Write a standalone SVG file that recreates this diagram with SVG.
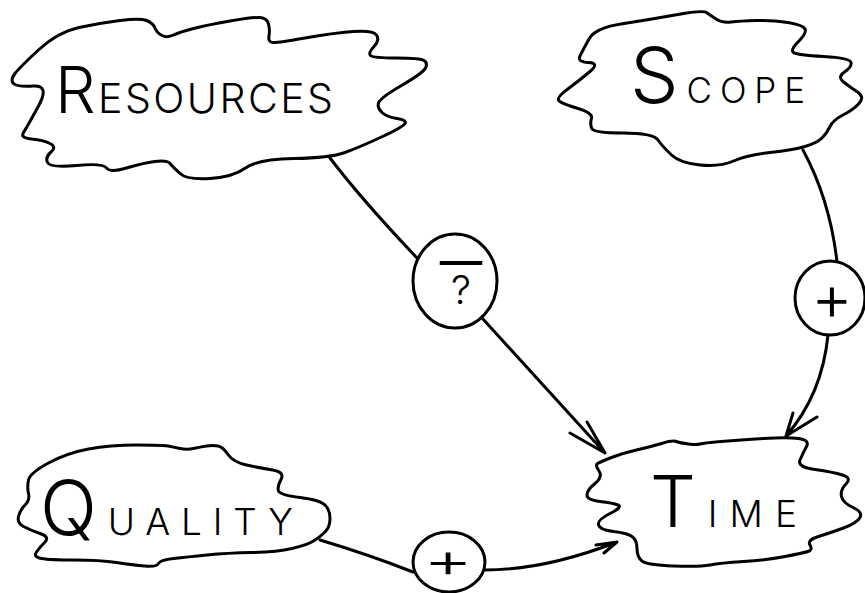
<svg xmlns="http://www.w3.org/2000/svg" width="865" height="593" viewBox="0 0 865 593">
<style>
.ink{fill:none;stroke:#000;stroke-width:3;stroke-linecap:round;stroke-linejoin:round}
.cloud{fill:#fff;stroke:#000;stroke-width:3;stroke-linejoin:round}
.lbl{font-family:Inter,"Open Sans","Liberation Sans",sans-serif;font-weight:300;fill:#000}
</style>
<rect width="865" height="593" fill="#fff"/>
<g id="connectors">
<path class="ink" d="M 330,158 Q 362,200 417,258"/>
<path class="ink" d="M 482,318 L 605,453 M 570,433 L 605,453 L 587,422"/>
<path class="ink" d="M 803,150 Q 830,200 837,262"/>
<path class="ink" d="M 828,335 Q 822,395 786,436 M 793,413 L 786,436 L 817,417"/>
<path class="ink" d="M 320,540 Q 370,555 413,572"/>
<path class="ink" d="M 485,570 Q 545,570 617,542 M 596,545 L 617,542 L 604,553"/>
</g>
<g id="resources">
<path class="cloud" d="M 39,49.5 Q 58,32 79,27.5 Q 100,23 120,20.5 Q 140,18 146.5,20.5 Q 153,23 155,28 Q 157,33 162,35.5 Q 167,38 173.5,35 Q 180,32 193.5,28.5 Q 207,25 230,21 Q 253,17 260,17.5 Q 267,18 268.5,24 Q 270,30 269,36 Q 268,42 272.5,42.5 Q 277,43 305,38 Q 333,33 353,31.5 Q 373,30 376.5,35 Q 380,40 374,46.5 Q 368,53 370.5,55.5 Q 373,58 396.5,58 Q 420,58 424,60.5 Q 428,63 425.5,68 Q 423,73 401.5,85.5 Q 380,98 378.5,103 Q 377,108 382,112.5 Q 387,117 397,118.5 Q 407,120 405,123.5 Q 403,127 381.5,137 Q 360,147 345,152.5 Q 330,158 294,158.5 Q 258,159 245.5,168 Q 233,177 210,178.5 Q 187,180 180,173.5 Q 173,167 170,163.5 Q 167,160 155,161.5 Q 143,163 126.5,168 Q 110,173 106.5,168 Q 103,163 76.5,165.5 Q 50,168 47.5,162.5 Q 45,157 51,152 Q 57,147 50,143.5 Q 43,140 31.5,139 Q 20,138 23.5,132.5 Q 27,127 38.5,106 Q 50,85 33.5,86 Q 17,87 13.5,83.5 Q 10,80 15,73.5 Q 20,67 39,49.5 Z"/>
<text class="lbl" x="55" y="113" textLength="278" lengthAdjust="spacing" font-size="64">R<tspan font-size="41">ESOURCES</tspan></text>
</g>
<g id="scope">
<path class="cloud" d="M 589,39 Q 595,28 621,24 Q 647,20 675,15 Q 703,10 706.5,12.5 Q 710,15 716,19 Q 722,23 731,22 Q 740,21 756.5,20.5 Q 773,20 788,22.5 Q 803,25 805,29 Q 807,33 798.5,41.5 Q 790,50 793.5,52.5 Q 797,55 823.5,56.5 Q 850,58 851,62.5 Q 852,67 844.5,72 Q 837,77 843.5,82 Q 850,87 857.5,92 Q 865,97 859,103.5 Q 853,110 843,115 Q 833,120 830,126.5 Q 827,133 822,138 Q 817,143 805,146.5 Q 793,150 770,152.5 Q 747,155 733.5,161 Q 720,167 700,165 Q 680,163 671.5,155 Q 663,147 658,140 Q 653,133 623,133 Q 593,133 591.5,128 Q 590,123 591.5,118 Q 593,113 576.5,108 Q 560,103 558.5,100 Q 557,97 568.5,88.5 Q 580,80 590,71.5 Q 600,63 588.5,62.5 Q 577,62 580,56 Q 583,50 589,39 Z"/>
<text class="lbl" x="630" y="103" textLength="175" lengthAdjust="spacing" font-size="77">S<tspan font-size="35">COPE</tspan></text>
</g>
<g id="quality">
<path class="cloud" d="M 28.5,480 Q 30,473 48.5,463 Q 67,453 88.5,449 Q 110,445 136.5,445 Q 163,445 168,446 Q 173,447 180,448.5 Q 187,450 193.5,448.5 Q 200,447 206.5,446 Q 213,445 218,446 Q 223,447 228,454.5 Q 233,462 246.5,465 Q 260,468 272.5,470 Q 285,472 281,479.5 Q 277,487 278.5,491 Q 280,495 300,497.5 Q 320,500 325,505 Q 330,510 330,518.5 Q 330,527 325,532 Q 320,537 313.5,541 Q 307,545 292,548.5 Q 277,552 252,552.5 Q 227,553 207,555 Q 187,557 173.5,558.5 Q 160,560 158.5,563.5 Q 157,567 145,566 Q 133,565 116.5,562.5 Q 100,560 75,560 Q 50,560 41.5,558.5 Q 33,557 36.5,552 Q 40,547 45,542 Q 50,537 40,533.5 Q 30,530 23.5,526.5 Q 17,523 18.5,516.5 Q 20,510 25,505 Q 30,500 28.5,493.5 Q 27,487 28.5,480 Z"/>
<text class="lbl" x="40" y="535" textLength="253" lengthAdjust="spacing" font-size="75">Q<tspan font-size="37">UALITY</tspan></text>
</g>
<g id="time">
<path class="cloud" d="M 597.5,463.5 Q 600,462 611.5,457.5 Q 623,453 636.5,450 Q 650,447 661.5,443.5 Q 673,440 676.5,441.5 Q 680,443 688.5,444 Q 697,445 700,444 Q 703,443 721.5,441.5 Q 740,440 763.5,438.5 Q 787,437 798.5,438.5 Q 810,440 806.5,446.5 Q 803,453 800,460 Q 797,467 815,469.5 Q 833,472 842.5,475 Q 852,478 846,484 Q 840,490 841.5,496.5 Q 843,503 853,507.5 Q 863,512 860,517.5 Q 857,523 843.5,528 Q 830,533 818.5,536.5 Q 807,540 810,545 Q 813,550 808,551.5 Q 803,553 785,556.5 Q 767,560 743.5,561.5 Q 720,563 710,565 Q 700,567 673.5,566 Q 647,565 642,561 Q 637,557 637,548.5 Q 637,540 632,536.5 Q 627,533 613.5,531.5 Q 600,530 598.5,525 Q 597,520 610,513.5 Q 623,507 618,505 Q 613,503 600,501.5 Q 587,500 587,495 Q 587,490 595,483.5 Q 603,477 599,471 Q 595,465 597.5,463.5 Z"/>
<text class="lbl" x="650" y="527" textLength="147" lengthAdjust="spacing" font-size="72">T<tspan font-size="37">IME</tspan></text>
</g>
<g id="sign-resources">
<ellipse class="cloud" cx="455" cy="281" rx="42" ry="47"/>
<text class="lbl" x="461" y="304" font-size="40" text-anchor="middle" text-decoration="overline">&#160;?&#160;</text>
</g>
<g id="sign-scope">
<ellipse class="cloud" cx="830" cy="298" rx="35" ry="37"/>
<text class="lbl" x="832" y="320" font-size="64" text-anchor="middle">+</text>
</g>
<g id="sign-quality">
<ellipse class="cloud" cx="449" cy="562" rx="36" ry="30"/>
<text class="lbl" transform="translate(448,577) scale(1.6,1)" x="0" y="0" font-size="48" text-anchor="middle">+</text>
</g>
</svg>
